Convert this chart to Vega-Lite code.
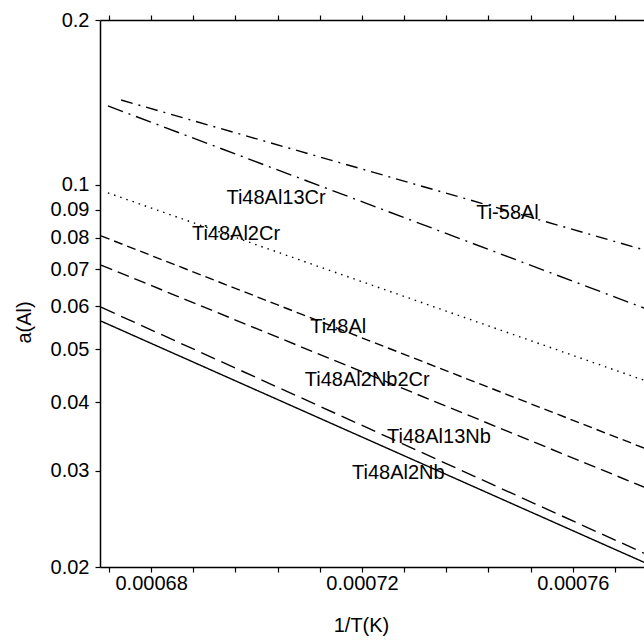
{
  "$schema": "https://vega.github.io/schema/vega-lite/v6.json",
  "width": 544,
  "height": 547,
  "autosize": {"type": "none"},
  "padding": {"left": 100, "top": 20, "right": 0, "bottom": 74},
  "background": "white",
  "config": {
    "view": {"stroke": null},
    "font": "Liberation Sans",
    "axis": {
      "domain": true,
      "domainColor": "black",
      "domainWidth": 1.5,
      "ticks": true,
      "tickColor": "black",
      "tickWidth": 1.2,
      "labelColor": "black",
      "labelFont": "Liberation Sans",
      "labelFontSize": 20,
      "titleFont": "Liberation Sans",
      "titleFontSize": 20,
      "titleFontWeight": "normal",
      "titleColor": "black",
      "grid": false
    }
  },
  "datasets": {
    "lines": [
      {"series": "Ti-58Al", "invT": 0.0006743, "aAl": 0.1428},
      {"series": "Ti-58Al", "invT": 0.0007735, "aAl": 0.0760},
      {"series": "Ti48Al13Cr", "invT": 0.0006718, "aAl": 0.1393},
      {"series": "Ti48Al13Cr", "invT": 0.0007735, "aAl": 0.0595},
      {"series": "Ti48Al2Cr", "invT": 0.0006718, "aAl": 0.0966},
      {"series": "Ti48Al2Cr", "invT": 0.0007735, "aAl": 0.0439},
      {"series": "Ti48Al", "invT": 0.0006705, "aAl": 0.0806},
      {"series": "Ti48Al", "invT": 0.0007735, "aAl": 0.0330},
      {"series": "Ti48Al2Nb2Cr", "invT": 0.0006705, "aAl": 0.0713},
      {"series": "Ti48Al2Nb2Cr", "invT": 0.0007735, "aAl": 0.0280},
      {"series": "Ti48Al13Nb", "invT": 0.0006705, "aAl": 0.0597},
      {"series": "Ti48Al13Nb", "invT": 0.0007735, "aAl": 0.0212},
      {"series": "Ti48Al2Nb", "invT": 0.0006705, "aAl": 0.0563},
      {"series": "Ti48Al2Nb", "invT": 0.0007735, "aAl": 0.0204}
    ],
    "labels": [
      {"label": "Ti48Al13Cr", "invT": 0.0007037, "aAl": 0.0945},
      {"label": "Ti48Al2Cr", "invT": 0.0006961, "aAl": 0.0813},
      {"label": "Ti-58Al", "invT": 0.0007476, "aAl": 0.0888},
      {"label": "Ti48Al", "invT": 0.0007155, "aAl": 0.0549},
      {"label": "Ti48Al2Nb2Cr", "invT": 0.000721, "aAl": 0.0439},
      {"label": "Ti48Al13Nb", "invT": 0.0007346, "aAl": 0.0346},
      {"label": "Ti48Al2Nb", "invT": 0.0007269, "aAl": 0.0297}
    ]
  },
  "layer": [
    {
      "data": {"name": "lines"},
      "mark": {"type": "line", "color": "black", "strokeWidth": 1.4, "clip": true},
      "encoding": {
        "x": {
          "field": "invT",
          "type": "quantitative",
          "scale": {"domain": [0.0006703, 0.0007735], "zero": false, "nice": false},
          "axis": {
            "orient": "bottom",
            "values": [0.000672, 0.00068, 0.000688, 0.000696, 0.000704, 0.000712, 0.00072, 0.000728, 0.000736, 0.000744, 0.000752, 0.00076, 0.000768],
            "labelExpr": "abs(datum.value*1e5 - round(datum.value*1e5)) < 0.01 ? format(datum.value, '.5f') : ''",
            "domain": true,
            "ticks": true,
            "tickSize": 5,
            "tickColor": "black",
            "labelPadding": 1,
            "labelBaseline": "top",
            "labelFlush": false,
            "labelOverlap": false,
            "title": "1/T(K)",
            "titleX": 261,
            "titleY": 58,
            "titleAlign": "center",
            "titleBaseline": "middle"
          }
        },
        "y": {
          "field": "aAl",
          "type": "quantitative",
          "scale": {"type": "log", "domain": [0.02, 0.2], "nice": false},
          "axis": {
            "orient": "left",
            "values": [0.02, 0.03, 0.04, 0.05, 0.06, 0.07, 0.08, 0.09, 0.1, 0.2],
            "labelExpr": "format(datum.value, '.2~f')",
            "domain": true,
            "ticks": true,
            "tickSize": 5,
            "tickColor": "black",
            "labelPadding": 6,
            "labelBaseline": "middle",
            "labelFlush": false,
            "labelOverlap": false,
            "title": "a(Al)",
            "titleX": -76,
            "titleY": 302,
            "titleAlign": "center",
            "titleBaseline": "middle"
          }
        },
        "strokeDash": {
          "field": "series",
          "type": "nominal",
          "scale": {
            "domain": ["Ti-58Al", "Ti48Al13Cr", "Ti48Al2Cr", "Ti48Al", "Ti48Al2Nb2Cr", "Ti48Al13Nb", "Ti48Al2Nb"],
            "range": [[12, 6, 2, 6], [16, 6, 2, 6], [1.5, 5], [9, 5], [12, 6], [15, 7], [1, 0]]
          },
          "legend": null
        }
      }
    },
    {
      "data": {"name": "labels"},
      "mark": {"type": "text", "fontSize": 20, "font": "Liberation Sans", "color": "black", "align": "center", "baseline": "middle"},
      "encoding": {
        "x": {
          "field": "invT",
          "type": "quantitative",
          "axis": {
            "orient": "top",
            "values": [0.000672, 0.00068, 0.000688, 0.000696, 0.000704, 0.000712, 0.00072, 0.000728, 0.000736, 0.000744, 0.000752, 0.00076, 0.000768],
            "labels": false,
            "domain": true,
            "domainColor": "black",
            "domainWidth": 1.5,
            "ticks": true,
            "tickSize": 5,
            "tickColor": "black",
            "tickWidth": 1.2,
            "title": null
          }
        },
        "y": {"field": "aAl", "type": "quantitative", "axis": null},
        "text": {"field": "label"}
      }
    }
  ],
  "resolve": {"axis": {"x": "independent", "y": "independent"}}
}
